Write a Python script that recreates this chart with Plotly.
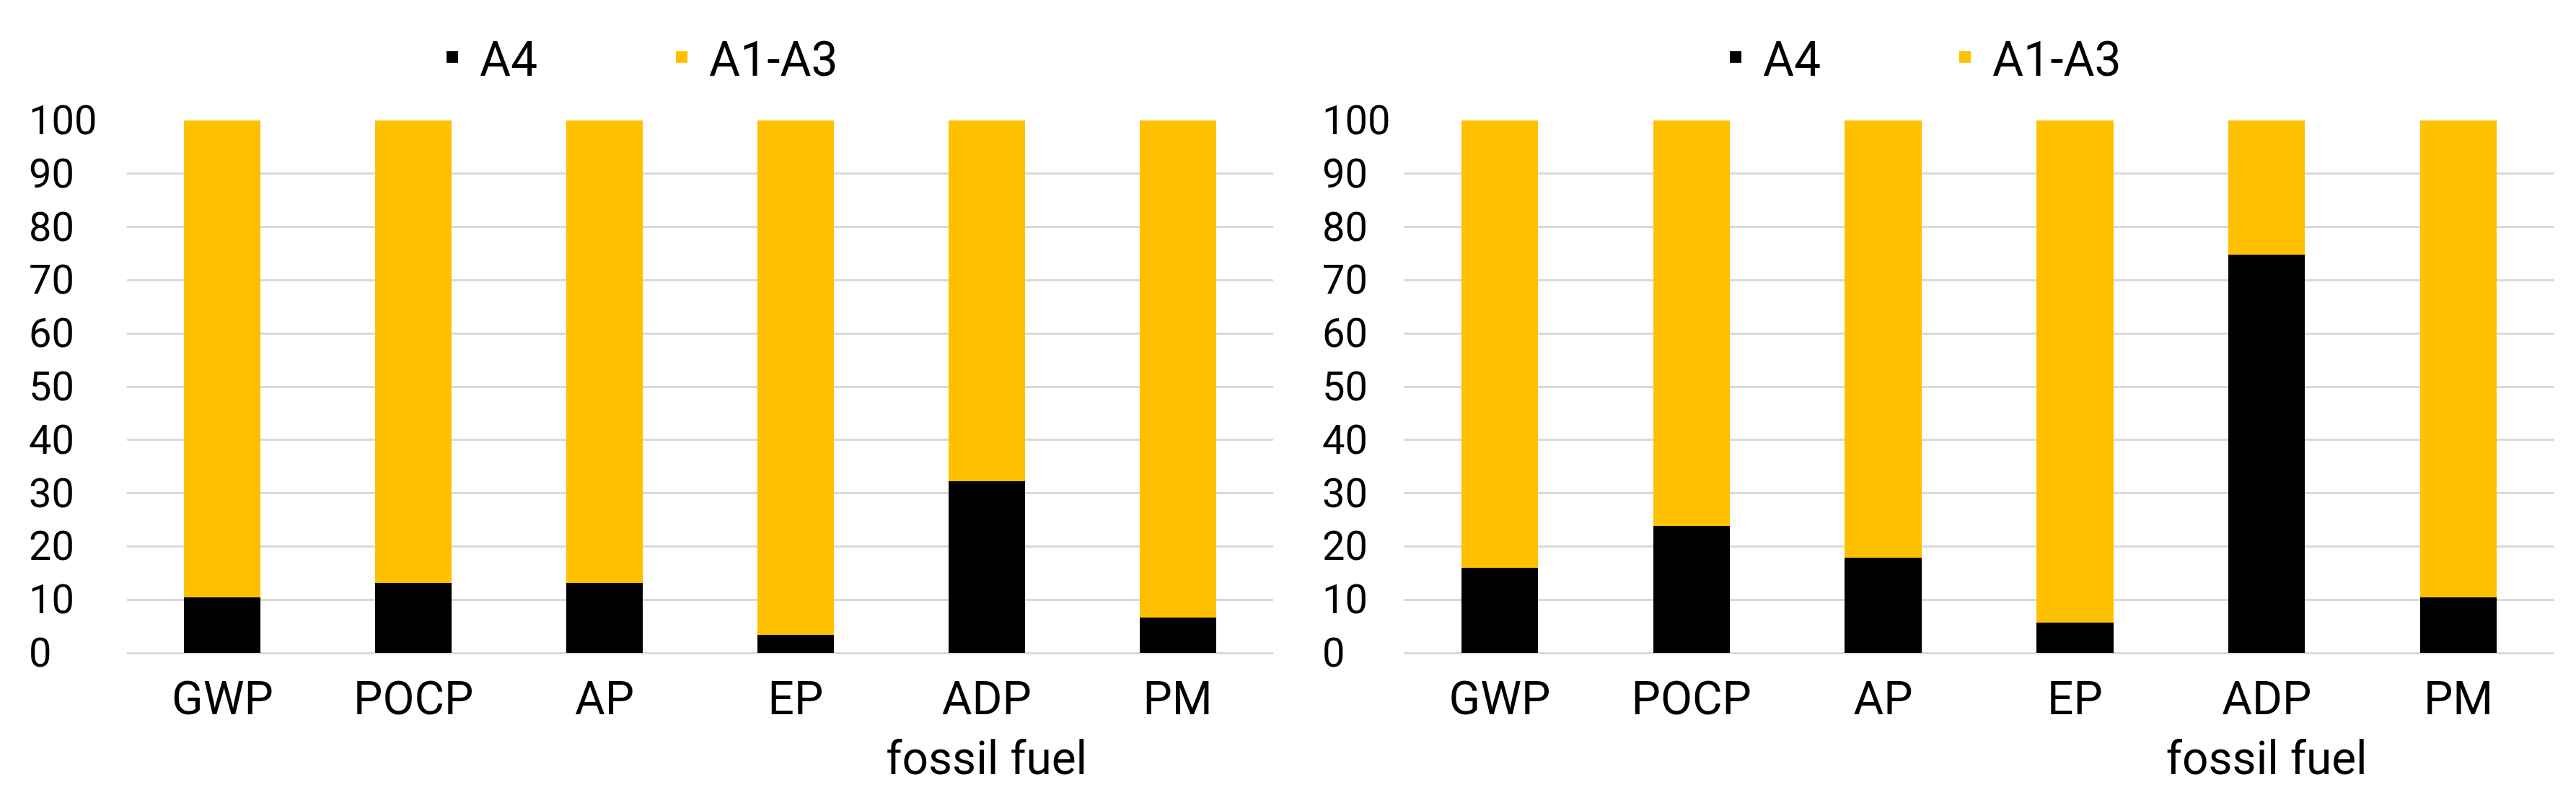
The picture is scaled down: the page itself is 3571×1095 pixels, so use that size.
import plotly.graph_objects as go
from plotly.subplots import make_subplots

categories = ["GWP", "POCP", "AP", "EP", "ADP<br>fossil fuel", "PM"]
left_a4 = [10.4, 13.2, 13.2, 3.4, 32.3, 6.7]
right_a4 = [16.0, 23.9, 17.9, 5.7, 74.8, 10.4]
left_a13 = [100 - v for v in left_a4]
right_a13 = [100 - v for v in right_a4]
y_ticks = [0, 10, 20, 30, 40, 50, 60, 70, 80, 90, 100]
series_names = ["A4", "A1-A3"]
series_colors = ["#000000", "#FFC000"]

FONT = "Roboto"
W, H = 3571, 1095
TOP, BOT = 159, 198
PH = H - TOP - BOT

fig = make_subplots(rows=1, cols=2)

panels = [(left_a4, left_a13, 1, "legend"), (right_a4, right_a13, 2, "legend2")]
for a4, a13, col, leg in panels:
    for vals, name, color in zip([a4, a13], series_names, series_colors):
        fig.add_trace(go.Bar(x=categories, y=vals, name=name, marker_color=color,
                             marker_line_width=0, showlegend=False), row=1, col=col)
    for name, color in zip(series_names, series_colors):
        fig.add_trace(go.Scatter(x=[None], y=[None], mode="markers", name=name,
                                 marker=dict(symbol="square", size=22, color=color),
                                 legend=leg, showlegend=True), row=1, col=col)

leg_y = (H - BOT - 71) / PH
leg_common = dict(orientation="h", xanchor="left", y=leg_y, yanchor="middle",
                  traceorder="normal", font=dict(family=FONT, size=66),
                  itemwidth=66, entrywidth=237, bgcolor="rgba(0,0,0,0)")
fig.update_layout(
    width=W, height=H,
    barmode="stack", bargap=0.6,
    plot_bgcolor="white", paper_bgcolor="white",
    margin=dict(l=0, r=0, t=TOP, b=BOT),
    font=dict(family=FONT, color="black", size=60),
    legend=dict(x=581 / W, **leg_common),
    legend2=dict(x=2360 / W, **leg_common),
)

domains = [(168 / W, 1757 / W), (1938 / W, 3533 / W)]
for i, dom in enumerate(domains, start=1):
    fig.update_xaxes(domain=list(dom), row=1, col=i, showgrid=False, showline=False,
                     ticks="", tickfont=dict(family=FONT, size=64), ticklabelstandoff=20,
                     tickangle=0)
    fig.update_yaxes(row=1, col=i, range=[0, 100], tickvals=y_ticks, showticklabels=False,
                     showgrid=True, gridcolor="#D9D9D9", gridwidth=3,
                     zeroline=True, zerolinecolor="#D9D9D9", zerolinewidth=3, showline=False)

label_x = [30 / W, 1823 / W]
yrefs = ["y", "y2"]
for lx, yr in zip(label_x, yrefs):
    for t in y_ticks:
        fig.add_annotation(x=lx, xref="paper", y=t, yref=yr, text=str(t), showarrow=False,
                           xanchor="left", yanchor="middle",
                           font=dict(family=FONT, size=56, color="black"))

fig.write_html("out.html")
